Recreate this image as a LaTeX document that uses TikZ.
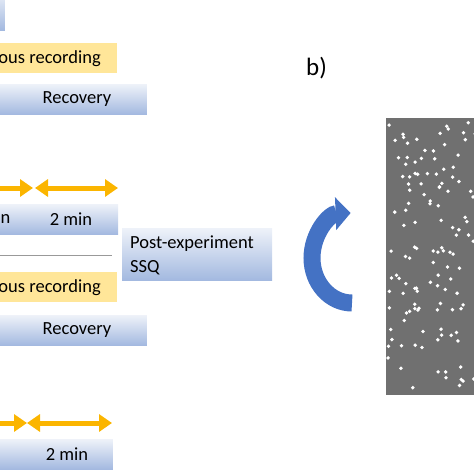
\documentclass[tikz,border=0pt]{standalone}
\usepackage{fontspec}
\setmainfont{Carlito}
\usetikzlibrary{arrows.meta,positioning}
\definecolor{gold}{HTML}{FBB500}
\definecolor{paleGold}{HTML}{FFE699}
\definecolor{boxTop}{HTML}{EEF2F9}
\definecolor{boxBottom}{HTML}{A3B9E0}
\definecolor{arcBlue}{HTML}{4472C4}
\definecolor{panelGray}{HTML}{707070}
\tikzset{
	bluebox/.style={shade, top color=boxTop, bottom color=boxBottom, minimum height=30pt, inner sep=0pt},
	goldbox/.style={fill=paleGold, minimum height=30pt, inner sep=0pt},
	lbl/.style={font=\fontsize{18.5}{24}\selectfont, inner sep=0pt},
	timearrow/.style={draw=gold, line width=5pt, -{Triangle[width=17pt,length=13pt]}},
	timearrows/.style={draw=gold, line width=5pt, {Triangle[width=17pt,length=13pt]}-{Triangle[width=17pt,length=13pt]}}
}
\begin{document}
\begin{tikzpicture}[x=1pt,y=-1pt]
	\useasboundingbox (0,0) rectangle (474,474);
	\clip (0,0) rectangle (474,474);

	% Upper session
	\node[bluebox, minimum width=40pt, minimum height=40pt, anchor=north east] (topbox) at (5,-10) {};
	\node[goldbox, minimum width=140pt, anchor=north east] (recA) at (117,43) {};
	\node[lbl, anchor=east] (recAt) at (101,59) {ous recording};
	\node[bluebox, minimum width=170pt, anchor=north east] (recovA) at (147,84) {};
	\node[lbl] (recovAt) at (77,99) {Recovery};

	% Timeline
	\coordinate (tA0) at (-10,188);
	\coordinate (tA1) at (33,188);
	\coordinate (tA2) at (35,188);
	\coordinate (tA3) at (118,188);
	\draw[timearrow] (tA0) -- (tA1);
	\draw[timearrows] (tA2) -- (tA3);
	\node[bluebox, minimum width=60pt, anchor=north east] (minA) at (34,204) {};
	\node[bluebox, minimum width=84pt, anchor=north west] (minB) at (34,204) {};
	\node[lbl, anchor=west] (minAt) at (0.5,219) {n};
	\node[lbl] (minBt) at (71,219) {2 min};

	% Separator
	\coordinate (sepL) at (-5,255);
	\coordinate (sepR) at (112,255);
	\draw[gray!80, line width=1pt] (sepL) -- (sepR);

	% Questionnaire
	\node[bluebox, minimum width=150pt, minimum height=52pt, anchor=north west] (post) at (122,228) {};
	\node[lbl, align=left, anchor=west] (postt) at (130,255) {Post-experiment\\SSQ};

	% Lower session
	\node[goldbox, minimum width=140pt, anchor=north east] (recB) at (117,272) {};
	\node[lbl, anchor=east] (recBt) at (101,288) {ous recording};
	\node[bluebox, minimum width=170pt, anchor=north east] (recovB) at (147,315) {};
	\node[lbl] (recovBt) at (77,330) {Recovery};

	% Timeline
	\coordinate (tB0) at (-10,423);
	\coordinate (tB1) at (27,423);
	\coordinate (tB2) at (27,423);
	\coordinate (tB3) at (112,423);
	\draw[timearrow] (tB0) -- (tB1);
	\draw[timearrows] (tB2) -- (tB3);
	\node[bluebox, minimum width=130pt, anchor=north east] (minC) at (113,439) {};
	\node[lbl] (minCt) at (67,454) {2 min};

	% Panel b
	\node[font=\fontsize{25}{30}\selectfont, inner sep=0pt, anchor=west] (panelLbl) at (306,68) {b)};
	\draw[arcBlue, line width=17pt, -{Triangle[width=32pt,length=15pt]}] (352,303) arc[start angle=90, end angle=268, x radius=40, y radius=45];
	\fill[panelGray] (386,118) rectangle (480,395);
	\pgfmathsetseed{11}
	\foreach \k in {1,...,125}{
		\pgfmathsetmacro{\px}{388+rnd*88}
		\pgfmathsetmacro{\py}{121+rnd*271}
		\fill[white] (\px,\py) circle[radius=1.9];
	}
\end{tikzpicture}
\end{document}
